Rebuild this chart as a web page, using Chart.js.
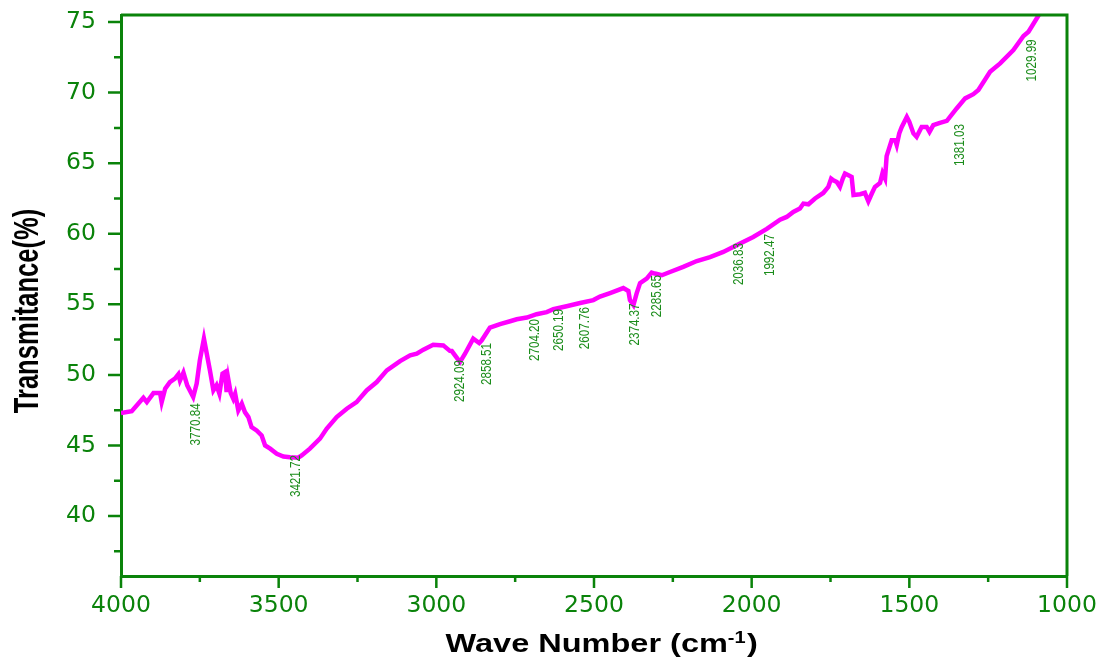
<!DOCTYPE html>
<html>
<head>
<meta charset="utf-8">
<script src="https://cdn.jsdelivr.net/npm/chart.js@4.4.1/dist/chart.umd.min.js"></script>
<style>
  html, body { margin: 0; padding: 0; background: #fff; }
  #wrap { width: 1103px; height: 664px; }
</style>
</head>
<body>
<div id="wrap"><canvas id="ftir"></canvas></div>
<script>
// FTIR spectrum, values
const waveNumbers = [
  4000, 3966, 3929, 3918, 3897, 3876, 3871, 3860, 3845, 3829, 3818, 3813, 3802, 3790,
  3771, 3760, 3750, 3737, 3728, 3718, 3707, 3697, 3688, 3678, 3670, 3665, 3660, 3652,
  3644, 3638, 3628, 3617, 3607, 3596, 3586, 3570, 3554, 3543, 3527, 3506, 3485, 3464,
  3438, 3427, 3401, 3369, 3348, 3316, 3284, 3253, 3221, 3189, 3157, 3115, 3083, 3062,
  3041, 3010, 2978, 2957, 2951, 2925, 2909, 2883, 2864, 2856, 2830, 2798, 2766, 2745,
  2713, 2682, 2650, 2629, 2587, 2544, 2502, 2481, 2449, 2407, 2391, 2386, 2375, 2365,
  2354, 2333, 2317, 2307, 2285, 2259, 2217, 2174, 2132, 2090, 2048, 1995, 1952, 1910,
  1889, 1868, 1847, 1836, 1820, 1799, 1773, 1757, 1748, 1741, 1730, 1720, 1711, 1704,
  1693, 1683, 1677, 1656, 1641, 1630, 1619, 1609, 1593, 1585, 1577, 1572, 1556, 1545,
  1540, 1532, 1524, 1508, 1500, 1487, 1477, 1461, 1445, 1436, 1424, 1403, 1381, 1350,
  1323, 1297, 1281, 1244, 1212, 1170, 1138, 1122, 1088
];
const transmittance = [
  47.29, 47.43, 48.38, 48.07, 48.71, 48.71, 48.07, 49.02, 49.49, 49.73, 50.04, 49.6, 50.16, 49.26,
  48.43, 49.38, 51.03, 52.57, 51.5, 50.32, 48.9, 49.26, 48.67, 50.09, 50.2, 48.78, 49.73, 48.71,
  48.31, 48.67, 47.48, 47.96, 47.36, 47.01, 46.3, 46.06, 45.71, 45.0, 44.77, 44.41, 44.22, 44.17,
  44.13, 44.29, 44.77, 45.48, 46.18, 47.01, 47.6, 48.07, 48.9, 49.49, 50.32, 50.98, 51.38, 51.5,
  51.79, 52.14, 52.09, 51.7, 51.69, 50.91, 51.5, 52.57, 52.26, 52.45, 53.35, 53.6, 53.8, 53.94,
  54.06, 54.3, 54.45, 54.65, 54.86, 55.09, 55.3, 55.55, 55.8, 56.15, 55.95, 55.3, 54.95, 55.76,
  56.5, 56.82, 57.25, 57.18, 57.06, 57.29, 57.65, 58.07, 58.35, 58.71, 59.18, 59.77, 60.35, 61.0,
  61.19, 61.55, 61.79, 62.14, 62.09, 62.5, 62.89, 63.32, 63.91, 63.79, 63.67, 63.32, 63.91, 64.27,
  64.15, 64.03, 62.75, 62.8, 62.9, 62.3, 62.85, 63.32, 63.6, 64.3, 63.91, 65.5, 66.63, 66.63,
  66.28, 67.11, 67.57, 68.28, 67.93, 67.11, 66.87, 67.57, 67.57, 67.22, 67.7, 67.86, 68.0, 68.88,
  69.59, 69.89, 70.18, 71.48, 72.07, 73.01, 74.01, 74.31, 75.55
];

// peak labels and where their top end sits (in axis units)
const peakLabels = ["3770.84", "3421.72", "2924.09", "2858.51", "2704.20", "2650.19", "2607.76",
  "2374.37", "2285.65", "2036.83", "1992.47", "1381.03", "1029.99"];
const peakLabelX = [3768, 3451, 2928, 2843, 2692, 2616, 2532, 2373, 2306, 2045, 1945, 1343, 1116];
const peakLabelY = [47.98, 44.32, 51.05, 52.26, 53.96, 54.67, 54.8, 55.06, 57.07, 59.34, 59.98, 67.77, 73.77];

const xTickValues = [4000, 3500, 3000, 2500, 2000, 1500, 1000];
const yTickValues = [40, 45, 50, 55, 60, 65, 70, 75];

const green = "#0a830a";
const labelGreen = "#1a8c1a";

// frame, minor ticks, titles and peak labels
const decorPlugin = {
  id: "decor",
  afterDraw(chart) {
    const ctx = chart.ctx;
    const a = chart.chartArea;
    const x = chart.scales.x;
    const y = chart.scales.y;
    ctx.save();

    // top and right frame
    ctx.strokeStyle = green;
    ctx.lineWidth = 3;
    ctx.beginPath();
    ctx.moveTo(a.left, a.top);
    ctx.lineTo(a.right, a.top);
    ctx.lineTo(a.right, a.bottom);
    ctx.stroke();

    // tick marks
    ctx.lineWidth = 2.5;
    ctx.beginPath();
    for (let v = 1000; v <= 4000; v += 250) {
      const px = x.getPixelForValue(v);
      const len = xTickValues.includes(v) ? 12 : 6;
      ctx.moveTo(px, a.bottom);
      ctx.lineTo(px, a.bottom + len);
    }
    for (let v = 37.5; v <= 75; v += 2.5) {
      const py = y.getPixelForValue(v);
      const len = yTickValues.includes(v) ? 13 : 7;
      ctx.moveTo(a.left, py);
      ctx.lineTo(a.left - len, py);
    }
    ctx.stroke();

    // peak labels, rotated
    ctx.fillStyle = labelGreen;
    ctx.font = "15px 'Liberation Sans', Arial, sans-serif";
    ctx.textAlign = "right";
    ctx.textBaseline = "alphabetic";
    peakLabels.forEach((txt, i) => {
      const px = x.getPixelForValue(peakLabelX[i]);
      const py = y.getPixelForValue(peakLabelY[i]);
      ctx.save();
      ctx.translate(px + 5.4, py);
      ctx.rotate(-Math.PI / 2);
      ctx.scale(0.775, 1);
      ctx.fillText(txt, 0, 0);
      ctx.restore();
    });

    // x axis title with superscript
    ctx.fillStyle = "#000";
    ctx.textAlign = "left";
    const bigFont = "bold 26px 'Liberation Sans', Arial, sans-serif";
    const supFont = "bold 16px 'Liberation Sans', Arial, sans-serif";
    ctx.font = bigFont;
    const w1 = ctx.measureText("Wave Number (cm").width;
    const w3 = ctx.measureText(")").width;
    ctx.font = supFont;
    const w2 = ctx.measureText("-1").width;
    const sx = 1.25;
    const total = (w1 + w2 + w3) * sx;
    const cx = (a.left + a.right) / 2 + 7;
    ctx.save();
    ctx.translate(cx - total / 2, 652);
    ctx.scale(sx, 1);
    ctx.font = bigFont;
    ctx.fillText("Wave Number (cm", 0, 0);
    ctx.font = supFont;
    ctx.fillText("-1", w1, -9);
    ctx.font = bigFont;
    ctx.fillText(")", w1 + w2 + 1, 0);
    ctx.restore();

    // y axis title
    ctx.save();
    ctx.font = "bold 35px 'Liberation Sans', Arial, sans-serif";
    ctx.textAlign = "center";
    ctx.translate(38, 311);
    ctx.rotate(-Math.PI / 2);
    ctx.scale(0.73, 1);
    ctx.fillText("Transmitance(%)", 0, 0);
    ctx.restore();

    ctx.restore();
  }
};

// keep the plot box where the picture has it
function noScalePadding(s) {
  s.paddingTop = 0;
  s.paddingBottom = 0;
  s.paddingLeft = 0;
  s.paddingRight = 0;
}

const points = waveNumbers.map((w, i) => ({ x: w, y: transmittance[i] }));

new Chart(document.getElementById("ftir"), {
  type: "line",
  data: {
    datasets: [{
      data: points,
      borderColor: "#ff00ff",
      borderWidth: 4.5,
      pointRadius: 0,
      tension: 0,
      fill: false
    }]
  },
  options: {
    responsive: true,
    maintainAspectRatio: false,
    animation: false,
    layout: { padding: { left: 0, right: 36, top: 15, bottom: 0 } },
    plugins: {
      legend: { display: false },
      tooltip: { enabled: false }
    },
    scales: {
      x: {
        type: "linear",
        reverse: true,
        min: 1000,
        max: 4000,
        afterFit: (s) => { s.height = 88; noScalePadding(s); },
        grid: { display: false, drawTicks: false },
        border: { color: green, width: 3 },
        ticks: {
          stepSize: 500,
          autoSkip: false,
          includeBounds: false,
          maxRotation: 0,
          padding: 16,
          color: green,
          font: { family: "'DejaVu Sans'", size: 23.5 },
          callback: (v) => (xTickValues.includes(v) ? String(v) : "")
        }
      },
      y: {
        min: 35.75,
        max: 75.5,
        afterFit: (s) => { s.width = 121; noScalePadding(s); },
        grid: { display: false, drawTicks: false },
        border: { color: green, width: 3 },
        ticks: {
          stepSize: 5,
          autoSkip: false,
          includeBounds: false,
          padding: 25,
          color: green,
          font: { family: "'DejaVu Sans'", size: 23.5 },
          callback: (v) => (yTickValues.includes(v) ? String(v) : "")
        }
      }
    }
  },
  plugins: [decorPlugin]
});
</script>
</body>
</html>
